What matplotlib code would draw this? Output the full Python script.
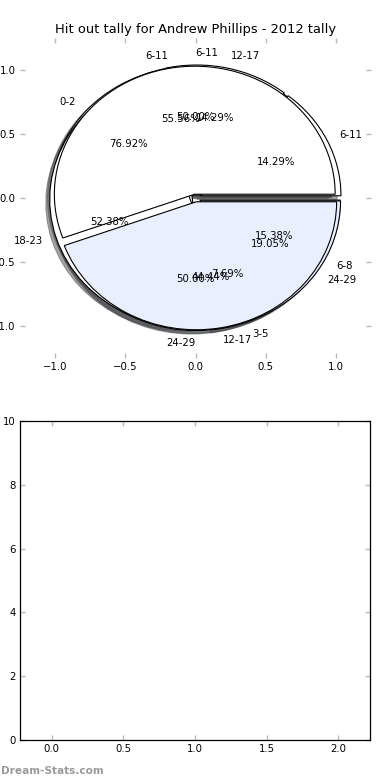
import matplotlib
matplotlib.use('Agg')
import matplotlib.pyplot as plt

title = "Hit out tally for Andrew Phillips - 2012 tally"

pie_a_labels = ["6-11", "24-29"]
pie_a_values = [1, 1]

pie_c_labels = ["0-2", "3-5", "6-8"]
pie_c_values = [10, 1, 2]

pie_d_labels = ["6-11", "12-17", "18-23", "24-29"]
pie_d_values = [3, 3, 11, 4]

pie_b_labels = ["6-11", "12-17"]
pie_b_values = [5, 4]

pie_ticks = [-1.0, -0.5, 0.0, 0.5, 1.0]
bottom_xticks = [0.0, 0.5, 1.0, 1.5, 2.0]
bottom_yticks = [0, 2, 4, 6, 8, 10]

WHITE = "white"
BLUE = "#e9efff"
FS = 7.3
TICK_COLOR = "#bbbbbb"

fig = plt.figure(figsize=(3.9, 7.8), dpi=100)
ax = fig.add_axes([20 / 390, 422 / 780, 351 / 390, 320 / 780])

pies = [
    (pie_a_values, pie_a_labels, [WHITE, BLUE], 0.035),
    (pie_c_values, pie_c_labels, [WHITE, BLUE, BLUE], 0.035),
    (pie_d_values, pie_d_labels, [WHITE, WHITE, WHITE, BLUE], 0.04),
    (pie_b_values, pie_b_labels, [WHITE, BLUE], 0.03),
]
results = []
for vals, labs, cols, ex in pies:
    res = ax.pie(vals, labels=labs, colors=cols, explode=[ex] * len(vals),
                 autopct='%1.2f%%', shadow=True, startangle=0,
                 wedgeprops=dict(edgecolor='black', linewidth=0.8),
                 textprops=dict(fontsize=FS, color='black'))
    results.append(res)

# labels on the vertical axis of the 50/50 pie: first left-aligned, second right-aligned
a_texts = results[0][1]
a_texts[0].set_ha('left')
a_texts[1].set_ha('right')

ax.set_aspect('auto')
ax.set_frame_on(False)
ax.set_xlim(-1.25, 1.25)
ax.set_ylim(-1.25, 1.25)
ax.set_xticks(pie_ticks)
ax.set_yticks(pie_ticks)
ax.tick_params(direction='in', color=TICK_COLOR, top=True, right=True,
               length=3.5, width=1, labelsize=FS, pad=3)
ax.set_title(title, fontsize=9.4, pad=3.5)

ax2 = fig.add_axes([20 / 390, 40 / 780, 350 / 390, 319 / 780])
ax2.set_xlim(-0.221, 2.221)
ax2.set_ylim(0, 10)
ax2.set_xticks(bottom_xticks)
ax2.set_yticks(bottom_yticks)
ax2.tick_params(direction='in', color=TICK_COLOR, top=True, right=True,
                length=3.5, width=1, labelsize=FS, pad=3)
for s in ax2.spines.values():
    s.set_linewidth(0.9)
    s.set_color('black')

fig.text(0.002, 0.0115, "Dream-Stats.com", color='#9a9a9a', fontsize=7.6,
         fontweight='bold', va='center', ha='left')

fig.savefig("out.png", dpi=100)
